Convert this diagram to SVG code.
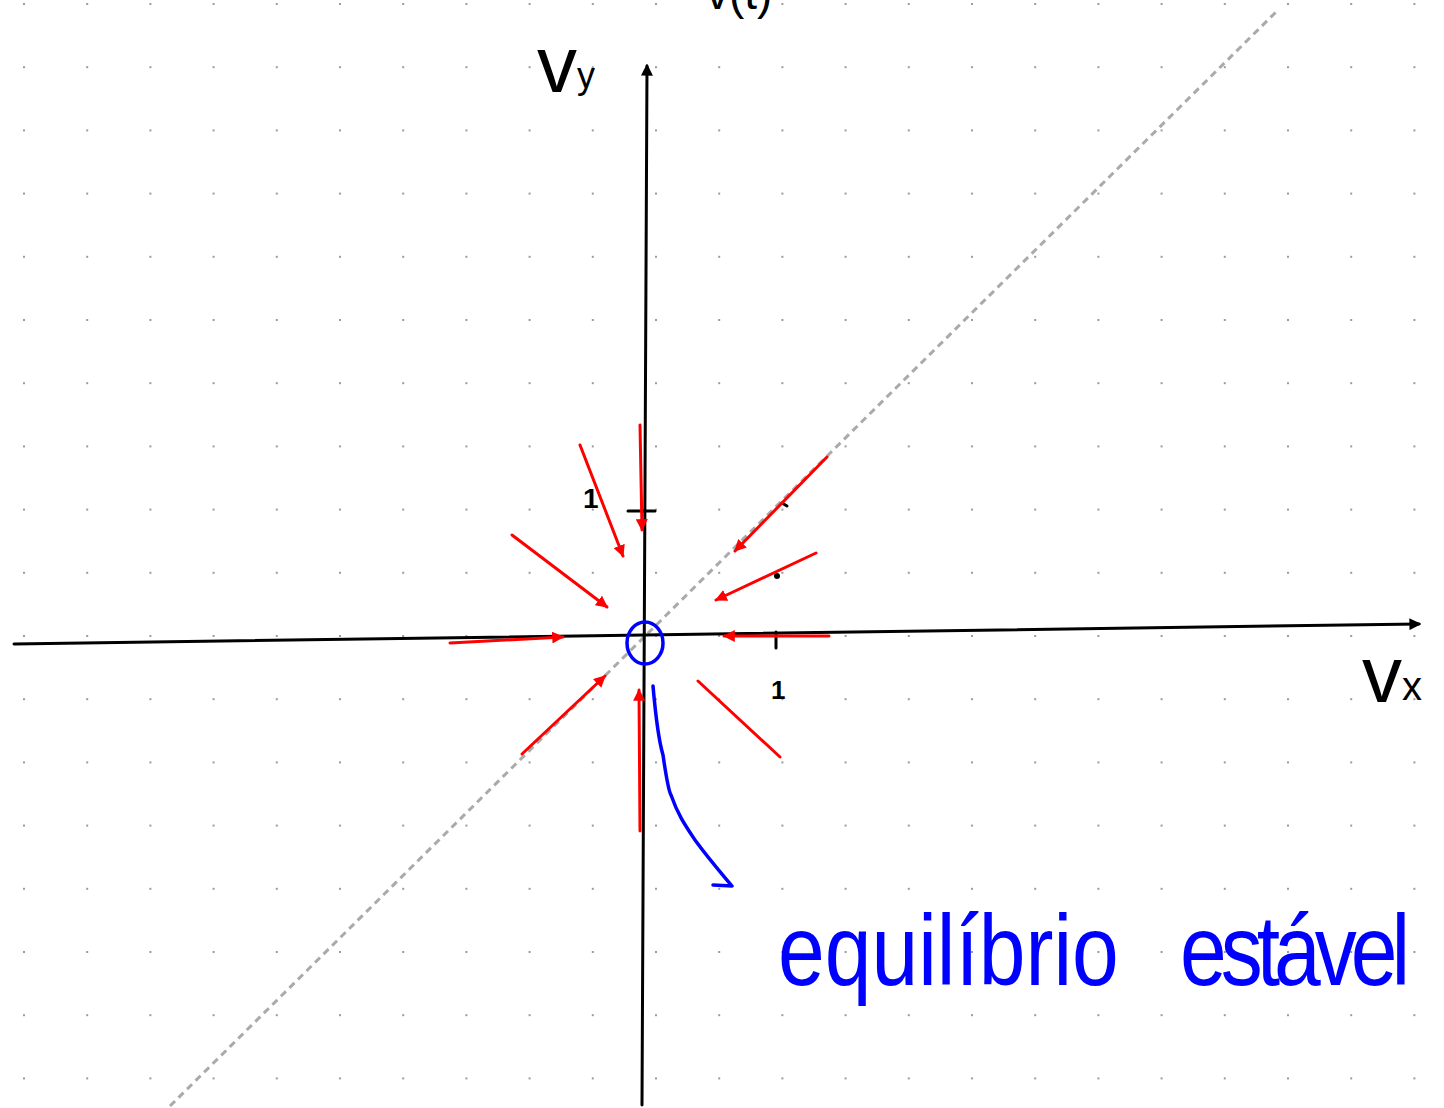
<svg xmlns="http://www.w3.org/2000/svg" width="1444" height="1108" viewBox="0 0 1444 1108">
<style>
.axis{stroke:#000;stroke-width:3;fill:none;stroke-linecap:round}
.ink{fill:#000;font-family:"Liberation Sans",Arial,sans-serif}
.flow{stroke:#ff0000;stroke-width:3;fill:none;stroke-linecap:round}
.blue{stroke:#0000ff;stroke-width:3.5;fill:none;stroke-linecap:round;stroke-linejoin:round}
.diag{stroke:#aaaaaa;stroke-width:3;stroke-dasharray:7 5;fill:none}
</style>
<defs>
<pattern id="grid" x="23" y="3" width="63.2" height="63.2" patternUnits="userSpaceOnUse">
<rect x="0" y="0" width="2" height="2" fill="#9a9a9a"/>
</pattern>
<marker id="ah" viewBox="0 0 10 10" refX="9" refY="5" markerWidth="4" markerHeight="4" orient="auto" markerUnits="strokeWidth">
<path d="M0,0 L10,5 L0,10 z" fill="#ff0000"/>
</marker>
<marker id="axh" viewBox="0 0 10 10" refX="8" refY="5" markerWidth="4" markerHeight="4" orient="auto" markerUnits="strokeWidth">
<path d="M0,0 L10,5 L0,10 z" fill="#000"/>
</marker>
</defs>
<rect width="1444" height="1108" fill="#ffffff"/>
<rect width="1444" height="1108" fill="url(#grid)"/>

<g id="diagonal">
<line class="diag" x1="170" y1="1106" x2="1276" y2="12"/>
</g>

<g id="axis-x">
<line class="axis" x1="14" y1="644" x2="1419" y2="624" marker-end="url(#axh)"/>
<line class="axis" x1="776" y1="632" x2="776" y2="648"/>
<text class="ink" x="771" y="699" font-size="26" font-weight="bold">1</text>
<text class="ink" x="1362" y="702" font-size="80">v<tspan font-size="40" dy="-2">x</tspan></text>
</g>

<g id="axis-y">
<line class="axis" x1="642" y1="1105" x2="647" y2="66" marker-end="url(#axh)"/>
<line class="axis" x1="628" y1="511" x2="655" y2="511"/>
<text class="ink" x="583" y="508" font-size="28" font-weight="bold">1</text>
<text class="ink" x="537" y="92" font-size="80">v<tspan font-size="36" dy="-4">y</tspan></text>
</g>

<g id="top-label">
<text class="ink" x="706" y="9" font-size="46">v(t)</text>
</g>

<g id="marks">
<line class="axis" x1="782" y1="503" x2="787" y2="506"/>
<circle cx="777" cy="576" r="3" fill="#000"/>
</g>

<g id="equilibrium">
<ellipse class="blue" cx="645" cy="643" rx="18" ry="21"/>
</g>

<g id="connectors">
<line class="flow" x1="640" y1="425" x2="642" y2="530" marker-end="url(#ah)"/>
<line class="flow" x1="580" y1="445" x2="623" y2="556" marker-end="url(#ah)"/>
<line class="flow" x1="512" y1="535" x2="607" y2="607" marker-end="url(#ah)"/>
<line class="flow" x1="827" y1="457" x2="735" y2="551" marker-end="url(#ah)"/>
<line class="flow" x1="816" y1="553" x2="716" y2="600" marker-end="url(#ah)"/>
<line class="flow" x1="450" y1="643" x2="563" y2="637" marker-end="url(#ah)"/>
<line class="flow" x1="829" y1="636" x2="724" y2="636" marker-end="url(#ah)"/>
<line class="flow" x1="522" y1="754" x2="605" y2="676" marker-end="url(#ah)"/>
<line class="flow" x1="640" y1="831" x2="639" y2="690" marker-end="url(#ah)"/>
<line class="flow" x1="698" y1="681" x2="780" y2="757"/>
<path class="blue" d="M653,686 C656,720 660,745 663,755 C666,775 668,790 671,795 C678,815 685,825 695,840 C708,858 722,874 732,886 L713,885"/>
</g>

<g id="label-equilibrio">
<text transform="translate(778,985) scale(1,1.2)" font-family="Liberation Sans, Arial, sans-serif" font-size="84" fill="#0000ff">equilíbrio <tspan x="402" letter-spacing="-6">estável</tspan></text>
</g>
</svg>
